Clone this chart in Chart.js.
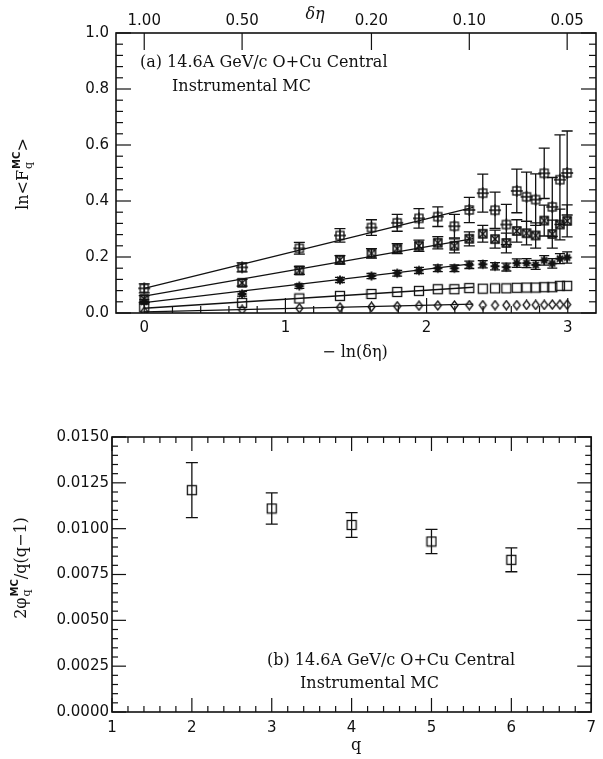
<!DOCTYPE html>
<html>
<head>
<meta charset="utf-8">
<script src="https://cdn.jsdelivr.net/npm/chart.js@4.4.0/dist/chart.umd.min.js"></script>
<style>
  html, body { margin: 0; padding: 0; background: #fff; }
  #wrap { position: relative; width: 603px; height: 759px; }
  #wrap canvas { position: absolute; left: 0; }
  #fmTop { top: 0; }
  #fmBottom { top: 380px; }
</style>
</head>
<body>
<div id="wrap">
  <canvas id="fmTop" width="603" height="380" style="width:603px;height:380px"></canvas>
  <canvas id="fmBottom" width="603" height="379" style="width:603px;height:379px"></canvas>
</div>
<script>
// ─── Panel (a): ln<F_q> vs -ln(δη), δη = 1/M ───────────────────
const bins     = [1, 2, 3, 4, 5, 6, 7, 8, 9, 10, 11, 12, 13, 14, 15, 16, 17, 18, 19, 20];
const etaTicks = [1.00, 0.50, 0.20, 0.10, 0.05];
const lnTicksX = [0, 1, 2, 3];
const lnTicksY = [0, 0.2, 0.4, 0.6, 0.8, 1.0];

const lnF2 = [0.005, 0.011, 0.017, 0.020, 0.022, 0.024, 0.026, 0.027, 0.027, 0.028,
              0.028, 0.028, 0.028, 0.028, 0.029, 0.029, 0.029, 0.030, 0.030, 0.030];
const lnF3 = [0.020, 0.036, 0.052, 0.061, 0.068, 0.075, 0.079, 0.085, 0.085, 0.089,
              0.087, 0.088, 0.088, 0.090, 0.091, 0.091, 0.092, 0.092, 0.097, 0.097];
const lnF4 = [0.040, 0.068, 0.096, 0.118, 0.132, 0.142, 0.152, 0.160, 0.160, 0.172,
              0.174, 0.167, 0.164, 0.178, 0.178, 0.172, 0.188, 0.177, 0.194, 0.198];
const err4 = [0.008, 0.008, 0.008, 0.009, 0.009, 0.010, 0.011, 0.012, 0.012, 0.013,
              0.013, 0.013, 0.014, 0.015, 0.016, 0.016, 0.017, 0.017, 0.018, 0.020];
const lnF5 = [0.050, 0.108, 0.152, 0.190, 0.213, 0.230, 0.240, 0.251, 0.240, 0.265,
              0.283, 0.264, 0.250, 0.293, 0.285, 0.277, 0.330, 0.282, 0.316, 0.329];
const err5 = [0.012, 0.012, 0.014, 0.015, 0.017, 0.018, 0.020, 0.022, 0.025, 0.025,
              0.030, 0.032, 0.035, 0.040, 0.042, 0.045, 0.055, 0.050, 0.055, 0.057];
const lnF6 = [0.088, 0.163, 0.231, 0.277, 0.305, 0.322, 0.338, 0.344, 0.310, 0.368,
              0.428, 0.367, 0.316, 0.436, 0.415, 0.405, 0.499, 0.379, 0.476, 0.500];
const err6 = [0.016, 0.016, 0.021, 0.024, 0.028, 0.030, 0.035, 0.035, 0.042, 0.045,
              0.068, 0.065, 0.072, 0.078, 0.088, 0.092, 0.090, 0.105, 0.160, 0.150];

// straight-line fits over M = 1..10 (end values at fitRange)
const fitRange = [0, 2.33];
const fit2 = [0.004, 0.032];
const fit3 = [0.017, 0.092];
const fit4 = [0.037, 0.176];
const fit5 = [0.060, 0.266];
const fit6 = [0.088, 0.377];

// ─── Panel (b): 2φ_q / q(q-1) vs q ────────────────────────────
const qOrders  = [2, 3, 4, 5, 6];
const phiNorm  = [0.0121, 0.0111, 0.0102, 0.0093, 0.0083];
const phiErr   = [0.0015, 0.00085, 0.00068, 0.00066, 0.00065];
const qTicks   = [1, 2, 3, 4, 5, 6, 7];
const phiTicks = [0, 0.0025, 0.005, 0.0075, 0.01, 0.0125, 0.015];

const INK = '#111';
const TICK_FONT = { family: '"DejaVu Sans", sans-serif', size: 15 };
const SERIF = '"DejaVu Serif", serif';

// ─── marker glyphs ────────────────────────────────────────────
function glyph(size, draw) {
  const c = document.createElement('canvas');
  c.width = size; c.height = size;
  const g = c.getContext('2d');
  g.strokeStyle = INK; g.fillStyle = INK; g.lineWidth = 1.3;
  draw(g, size / 2);
  return c;
}
const mkDiamond = glyph(11, (g, m) => {
  g.beginPath(); g.moveTo(m, 1); g.lineTo(m + 3.5, m); g.lineTo(m, 10); g.lineTo(m - 3.5, m);
  g.closePath(); g.stroke();
});
const mkSquare = glyph(12, (g, m) => { g.strokeRect(m - 4.5, m - 4.5, 9, 9); });
const mkStar = glyph(12, (g, m) => {
  g.lineWidth = 1.8;
  g.beginPath();
  g.moveTo(m - 4.5, m); g.lineTo(m + 4.5, m);
  g.moveTo(m, m - 4.5); g.lineTo(m, m + 4.5);
  g.moveTo(m - 3, m - 3); g.lineTo(m + 3, m + 3);
  g.moveTo(m + 3, m - 3); g.lineTo(m - 3, m + 3);
  g.stroke();
});
const mkBoxX = glyph(12, (g, m) => {
  g.lineWidth = 1.6;
  g.strokeRect(m - 4, m - 4, 8, 8);
  g.beginPath();
  g.moveTo(m - 4, m - 4); g.lineTo(m + 4, m + 4);
  g.moveTo(m + 4, m - 4); g.lineTo(m - 4, m + 4);
  g.stroke();
});
const mkBoxPlus = glyph(14, (g, m) => {
  g.strokeRect(m - 4, m - 4, 8, 8);
  g.beginPath();
  g.moveTo(m - 6, m); g.lineTo(m + 6, m);
  g.moveTo(m, m - 6); g.lineTo(m, m + 6);
  g.stroke();
});

// ─── plugins ──────────────────────────────────────────────────
// frame box plus inward-pointing major/minor ticks on every side
const frameTicks = {
  id: 'frameTicks',
  afterDraw(chart, args, opts) {
    const { ctx, chartArea: a } = chart;
    ctx.save();
    ctx.strokeStyle = INK;
    ctx.lineWidth = 1.2;
    const mark = (side, p, len) => {
      ctx.beginPath();
      if (side === 'left')   { ctx.moveTo(a.left, p);   ctx.lineTo(a.left + len, p); }
      if (side === 'right')  { ctx.moveTo(a.right, p);  ctx.lineTo(a.right - len, p); }
      if (side === 'bottom') { ctx.moveTo(p, a.bottom); ctx.lineTo(p, a.bottom - len); }
      if (side === 'top')    { ctx.moveTo(p, a.top);    ctx.lineTo(p, a.top + len); }
      ctx.stroke();
    };
    for (const ax of opts.axes) {
      const s = chart.scales[ax.scale];
      ax.major.forEach(v => mark(ax.side, s.getPixelForValue(v), ax.majorLen));
      if (!ax.minorStep) continue;
      const i0 = Math.ceil(s.min / ax.minorStep - 1e-6);
      const i1 = Math.floor(s.max / ax.minorStep + 1e-6);
      for (let i = i0; i <= i1; i++) {
        const v = i * ax.minorStep;
        if (Math.abs(v - s.min) < 1e-9 || Math.abs(v - s.max) < 1e-9) continue;
        if (ax.major.some(m => Math.abs(m - v) < ax.minorStep / 10)) continue;
        mark(ax.side, s.getPixelForValue(v), ax.minorLen);
      }
    }
    ctx.lineWidth = 1.6;
    ctx.strokeRect(a.left, a.top, a.right - a.left, a.bottom - a.top);
    ctx.restore();
  }
};

// vertical error bars with end caps, taken from dataset.errors
const errorBars = {
  id: 'errorBars',
  afterDatasetsDraw(chart) {
    const { ctx, chartArea: a } = chart;
    ctx.save();
    ctx.beginPath();
    ctx.rect(a.left, a.top, a.right - a.left, a.bottom - a.top);
    ctx.clip();
    ctx.strokeStyle = INK;
    ctx.lineWidth = 1.3;
    chart.data.datasets.forEach((ds, di) => {
      if (!ds.errors) return;
      const ys = chart.scales[ds.yAxisID || 'y'];
      const meta = chart.getDatasetMeta(di);
      meta.data.forEach((pt, i) => {
        const v = ds.data[i].y, e = ds.errors[i];
        const hi = ys.getPixelForValue(v + e), lo = ys.getPixelForValue(v - e);
        const w = ds.capWidth / 2;
        ctx.beginPath();
        ctx.moveTo(pt.x, hi); ctx.lineTo(pt.x, lo);
        ctx.moveTo(pt.x - w, hi); ctx.lineTo(pt.x + w, hi);
        ctx.moveTo(pt.x - w, lo); ctx.lineTo(pt.x + w, lo);
        ctx.stroke();
      });
    });
    ctx.restore();
  }
};

// text run with stacked superscript/subscript pieces
function richWidth(ctx, parts, size) {
  let w = 0;
  for (const p of parts) {
    if (typeof p === 'string') { ctx.font = size + 'px ' + SERIF; w += ctx.measureText(p).width; }
    else {
      ctx.font = 'bold ' + Math.round(size * 0.6) + 'px "DejaVu Sans"';
      const ws = ctx.measureText(p.sup).width;
      ctx.font = Math.round(size * 0.7) + 'px ' + SERIF;
      w += Math.max(ws, ctx.measureText(p.sub).width) + 1;
    }
  }
  return w;
}
function drawRich(ctx, cx, cy, rot, parts, size) {
  ctx.save();
  ctx.translate(cx, cy);
  ctx.rotate(rot);
  ctx.fillStyle = INK;
  ctx.textBaseline = 'alphabetic';
  ctx.textAlign = 'left';
  let x = -richWidth(ctx, parts, size) / 2;
  const base = size * 0.35;
  for (const p of parts) {
    if (typeof p === 'string') {
      ctx.font = size + 'px ' + SERIF;
      ctx.fillText(p, x, base);
      x += ctx.measureText(p).width;
    } else {
      ctx.font = 'bold ' + Math.round(size * 0.6) + 'px "DejaVu Sans"';
      ctx.fillText(p.sup, x + 1, base - size * 0.5);
      const ws = ctx.measureText(p.sup).width;
      ctx.font = Math.round(size * 0.7) + 'px ' + SERIF;
      ctx.fillText(p.sub, x + 1, base + size * 0.3);
      x += Math.max(ws, ctx.measureText(p.sub).width) + 1;
    }
  }
  ctx.restore();
}

const labels = {
  id: 'labels',
  afterDraw(chart, args, opts) {
    const ctx = chart.ctx;
    ctx.save();
    ctx.fillStyle = INK;
    ctx.textBaseline = 'alphabetic';
    for (const t of opts.texts) {
      ctx.font = (t.italic ? 'italic ' : '') + t.size + 'px ' + SERIF;
      ctx.textAlign = t.align || 'left';
      ctx.fillText(t.text, t.x, t.y);
    }
    ctx.restore();
    for (const r of opts.rich) drawRich(ctx, r.x, r.y, r.rot, r.parts, r.size);
  }
};

function fixedTicks(values) {
  return s => { s.ticks = values.map(v => ({ value: v })); };
}
const tickStyle = (padding, callback) => ({
  color: INK, font: TICK_FONT, padding, maxRotation: 0, autoSkip: false, callback
});
const noGrid = { display: false, drawTicks: false };
const noBorder = { display: false };

// ─── chart (a) ────────────────────────────────────────────────
const pts = vals => vals.map((v, i) => ({ x: Math.log(bins[i]), y: v }));
const fitLine = vals => ({
  type: 'line',
  data: [{ x: fitRange[0], y: vals[0] }, { x: fitRange[1], y: vals[1] }],
  borderColor: INK, borderWidth: 1.3, pointRadius: 0, showLine: true
});
const marks = (vals, style, extra) => Object.assign({
  type: 'scatter', data: pts(vals), pointStyle: style, pointRadius: 6,
  borderColor: INK, backgroundColor: INK
}, extra || {});

new Chart(document.getElementById('fmTop'), {
  type: 'scatter',
  data: {
    datasets: [
      fitLine(fit2), fitLine(fit3), fitLine(fit4), fitLine(fit5), fitLine(fit6),
      marks(lnF2, mkDiamond),
      marks(lnF3, mkSquare),
      marks(lnF4, mkStar,    { errors: err4, capWidth: 10 }),
      marks(lnF5, mkBoxX,    { errors: err5, capWidth: 11 }),
      marks(lnF6, mkBoxPlus, { errors: err6, capWidth: 11 }),
    ],
  },
  options: {
    responsive: false,
    animation: false,
    layout: { padding: { right: 2 } },
    plugins: {
      legend: { display: false },
      tooltip: { enabled: false },
      frameTicks: {
        axes: [
          { side: 'left',   scale: 'y',  major: lnTicksY, minorStep: 0.04, majorLen: 15, minorLen: 7 },
          { side: 'right',  scale: 'y',  major: lnTicksY, minorStep: 0.04, majorLen: 15, minorLen: 7 },
          { side: 'bottom', scale: 'x',  major: lnTicksX, minorStep: 0.2,  majorLen: 15, minorLen: 7 },
          { side: 'top',    scale: 'x2', major: etaTicks.map(d => -Math.log(d)), minorStep: 0, majorLen: 17 },
        ],
      },
      labels: {
        texts: [
          { text: '(a) 14.6A GeV/c O+Cu Central', x: 140, y: 67, size: 16 },
          { text: 'Instrumental MC', x: 172, y: 91, size: 16 },
          { text: 'δη', x: 315, y: 19, size: 16, italic: true, align: 'center' },
          { text: '− ln(δη)', x: 355, y: 357, size: 16, align: 'center' },
        ],
        rich: [
          { x: 22, y: 174, rot: -Math.PI / 2, size: 16, parts: ['ln<F', { sup: 'MC', sub: 'q' }, '>'] },
        ],
      },
    },
    scales: {
      x: {
        type: 'linear', position: 'bottom', min: -0.2, max: 3.2,
        afterBuildTicks: fixedTicks(lnTicksX),
        afterFit: s => { s.height = 67; },
        ticks: tickStyle(6, v => String(v)),
        grid: noGrid, border: noBorder,
      },
      x2: {
        type: 'linear', position: 'top', min: -0.2, max: 3.2,
        afterBuildTicks: fixedTicks(etaTicks.map(d => -Math.log(d))),
        afterFit: s => { s.height = 33; },
        ticks: tickStyle(3, (v, i) => etaTicks[i].toFixed(2)),
        grid: noGrid, border: noBorder,
      },
      y: {
        type: 'linear', position: 'left', min: 0, max: 1,
        afterBuildTicks: fixedTicks(lnTicksY),
        afterFit: s => { s.width = 116; },
        ticks: tickStyle(7, v => v.toFixed(1)),
        grid: noGrid, border: noBorder,
      },
    },
  },
  plugins: [errorBars, frameTicks, labels],
});

// ─── chart (b) ────────────────────────────────────────────────
new Chart(document.getElementById('fmBottom'), {
  type: 'scatter',
  data: {
    datasets: [{
      data: qOrders.map((q, i) => ({ x: q, y: phiNorm[i] })),
      errors: phiErr, capWidth: 12,
      pointStyle: mkSquare, pointRadius: 6,
      borderColor: INK, backgroundColor: INK,
    }],
  },
  options: {
    responsive: false,
    animation: false,
    layout: { padding: { top: 57, right: 3 } },
    plugins: {
      legend: { display: false },
      tooltip: { enabled: false },
      frameTicks: {
        axes: [
          { side: 'left',   scale: 'y', major: phiTicks, minorStep: 0.0005, majorLen: 14, minorLen: 6 },
          { side: 'right',  scale: 'y', major: phiTicks, minorStep: 0.0005, majorLen: 14, minorLen: 6 },
          { side: 'bottom', scale: 'x', major: qTicks,   minorStep: 0.2,    majorLen: 14, minorLen: 6 },
          { side: 'top',    scale: 'x', major: qTicks,   minorStep: 0.2,    majorLen: 14, minorLen: 6 },
        ],
      },
      labels: {
        texts: [
          { text: '(b) 14.6A GeV/c O+Cu Central', x: 267, y: 285, size: 16 },
          { text: 'Instrumental MC', x: 300, y: 308, size: 16 },
          { text: 'q', x: 356, y: 370, size: 16, align: 'center' },
        ],
        rich: [
          { x: 20, y: 188, rot: -Math.PI / 2, size: 16, parts: ['2φ', { sup: 'MC', sub: 'q' }, '/q(q−1)'] },
        ],
      },
    },
    scales: {
      x: {
        type: 'linear', position: 'bottom', min: 1, max: 7,
        afterBuildTicks: fixedTicks(qTicks),
        afterFit: s => { s.height = 47; },
        ticks: tickStyle(7, v => String(v)),
        grid: noGrid, border: noBorder,
      },
      y: {
        type: 'linear', position: 'left', min: 0, max: 0.015,
        afterBuildTicks: fixedTicks(phiTicks),
        afterFit: s => { s.width = 112; },
        ticks: tickStyle(3, v => v.toFixed(4)),
        grid: noGrid, border: noBorder,
      },
    },
  },
  plugins: [errorBars, frameTicks, labels],
});
</script>
</body>
</html>
